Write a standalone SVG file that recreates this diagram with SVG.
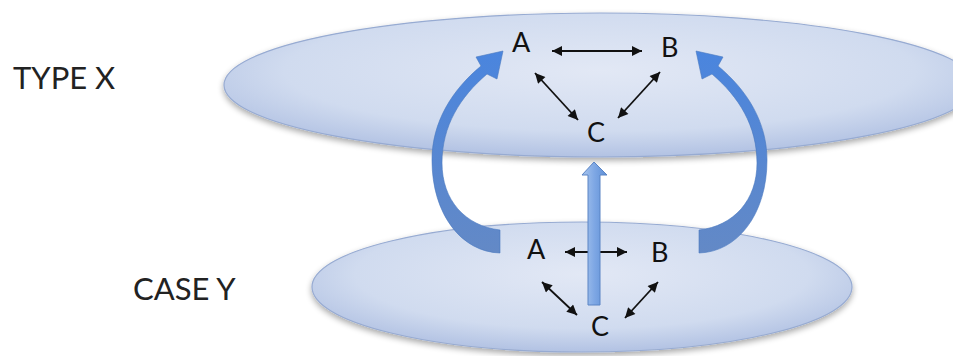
<svg xmlns="http://www.w3.org/2000/svg" width="953" height="356" viewBox="0 0 953 356">
  <style>
    .title { font-family: Lato, "Liberation Sans", sans-serif; font-size: 31px; fill: #222; }
    .lbl { font-family: Lato, "Liberation Sans", sans-serif; font-size: 27px; fill: #111; }
    .plane { fill: url(#planeGrad); stroke: #97abd2; stroke-width: 1.2; filter: url(#shadow); }
    .link { stroke: #111; stroke-width: 1.8; fill: none; marker-start: url(#head); marker-end: url(#head); }
    .curve { fill: url(#curveGrad); stroke: #4a78bf; stroke-width: 0.6; }
    .up { fill: url(#upGrad); stroke: #5a84c4; stroke-width: 1; }
  </style>
  <defs>
    <radialGradient id="planeGrad" cx="50%" cy="40%" r="60%">
      <stop offset="0" stop-color="#e2e8f5"/>
      <stop offset="0.7" stop-color="#d0dbef"/>
      <stop offset="1" stop-color="#b2c2e3"/>
    </radialGradient>
    <linearGradient id="curveGrad" x1="0" y1="0" x2="0" y2="1">
      <stop offset="0" stop-color="#4a85de"/>
      <stop offset="1" stop-color="#6389c6"/>
    </linearGradient>
    <linearGradient id="upGrad" x1="0" y1="0" x2="1" y2="0">
      <stop offset="0" stop-color="#a9c6ee"/>
      <stop offset="0.5" stop-color="#7ea7e4"/>
      <stop offset="1" stop-color="#5e8fd6"/>
    </linearGradient>
    <filter id="shadow" x="-10%" y="-20%" width="120%" height="150%">
      <feGaussianBlur in="SourceAlpha" stdDeviation="3"/>
      <feOffset dx="0" dy="3" result="b"/>
      <feComponentTransfer><feFuncA type="linear" slope="0.35"/></feComponentTransfer>
      <feMerge><feMergeNode/><feMergeNode in="SourceGraphic"/></feMerge>
    </filter>
    <marker id="head" viewBox="0 0 10 10" refX="10" refY="5" markerWidth="11" markerHeight="10" markerUnits="userSpaceOnUse" orient="auto-start-reverse">
      <path d="M0 0 L10 5 L0 10 Z" fill="#111"/>
    </marker>
    <path id="curvedArrow" d="M 500 230 C 465 226, 442 200, 442 163 C 442 126, 460 97, 487 74 L 497 79 L 503 51 L 476 57 L 481 66 C 452 90, 432 122, 432 160 C 432 215, 462 252, 500 253 Z"/>
  </defs>

  <g id="plane-type-x">
    <ellipse class="plane" cx="600" cy="85" rx="376" ry="72"/>
  </g>
  <g id="plane-case-y">
    <ellipse class="plane" cx="582" cy="287" rx="270" ry="65"/>
  </g>

  <g id="label-type-x"><text class="title" x="13" y="89">TYPE X</text></g>
  <g id="label-case-y"><text class="title" x="133" y="300">CASE Y</text></g>

  <g id="x-A"><text class="lbl" x="512" y="52">A</text></g>
  <g id="x-B"><text class="lbl" x="661" y="57">B</text></g>
  <g id="x-C"><text class="lbl" x="587" y="142">C</text></g>
  <g id="y-A"><text class="lbl" x="527" y="259">A</text></g>
  <g id="y-B"><text class="lbl" x="651" y="262">B</text></g>
  <g id="y-C"><text class="lbl" x="591" y="336">C</text></g>

  <g id="connectors">
    <line class="link" x1="552" y1="51" x2="642" y2="51"/>
    <line class="link" x1="535" y1="73" x2="578" y2="120"/>
    <line class="link" x1="660" y1="72" x2="618" y2="118"/>
    <line class="link" x1="565" y1="252" x2="627" y2="252"/>
    <line class="link" x1="542" y1="282" x2="577" y2="315"/>
    <line class="link" x1="658" y1="282" x2="625" y2="318"/>
    <use href="#curvedArrow" class="curve"/>
    <use href="#curvedArrow" class="curve" transform="translate(1199 0) scale(-1 1)"/>
    <path class="up" d="M 588 305 L 588 175 L 582 175 L 594 162 L 607 175 L 600 175 L 600 305 Z"/>
  </g>
</svg>
